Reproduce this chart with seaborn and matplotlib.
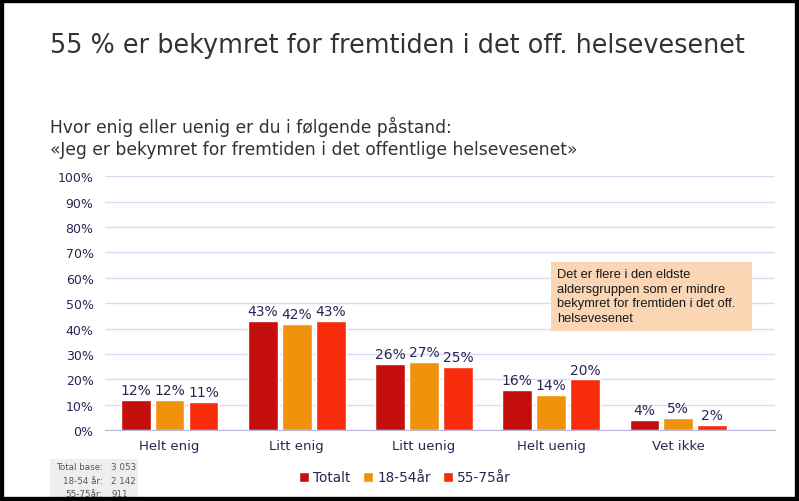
import pandas as pd
import matplotlib.pyplot as plt
import seaborn as sns
from matplotlib.patches import Rectangle

# --- data ---
categories = ["Helt enig", "Litt enig", "Litt uenig", "Helt uenig", "Vet ikke"]
groups = ["Totalt", "18-54år", "55-75år"]
totalt = [12, 43, 26, 16, 4]
aar_18_54 = [12, 42, 27, 14, 5]
aar_55_75 = [11, 43, 25, 20, 2]
y_ticks = [0, 10, 20, 30, 40, 50, 60, 70, 80, 90, 100]
base_labels = ["Total base:", "18-54 år:", "55-75år:"]
base_values = ["3 053", "2 142", "911"]

colors = ["#C40F0C", "#F0920C", "#F62C0A"]
navy = "#262654"

df = pd.DataFrame({
    "kategori": categories * 3,
    "gruppe": [g for g in groups for _ in categories],
    "andel": totalt + aar_18_54 + aar_55_75,
})

sns.set_style("white")
plt.rcParams["font.family"] = ["DejaVu Sans"]

fig = plt.figure(figsize=(7.99, 5.02), dpi=100)
ax = fig.add_axes([0.131, 0.141, 0.839, 0.506])

sns.barplot(data=df, x="kategori", y="andel", hue="gruppe", order=categories,
            hue_order=groups, palette=colors, width=0.8, gap=0.12,
            saturation=1, ax=ax, legend=True, zorder=3)

for cont in ax.containers:
    ax.bar_label(cont, labels=[f"{v:.0f}%" for v in cont.datavalues],
                 padding=2, fontsize=10, color=navy)

ax.set_ylim(0, 100)
ax.set_xlim(-0.51, 4.76)
ax.set_yticks(y_ticks)
ax.set_yticklabels([f"{t}%" for t in y_ticks], fontsize=9, color=navy)
ax.tick_params(axis="x", labelsize=9.5, labelcolor=navy, length=0, pad=6)
ax.tick_params(axis="y", length=0, pad=8)
ax.set_xlabel("")
ax.set_ylabel("")
ax.yaxis.grid(True, color="#DADAF0", linewidth=1, zorder=0)
for s in ["top", "right", "left"]:
    ax.spines[s].set_visible(False)
ax.spines["bottom"].set_color("#B8B8D8")

leg = ax.legend(loc="upper center", bbox_to_anchor=(0.448, -0.11), ncol=3,
                frameon=False, fontsize=9.8, handlelength=0.75, handleheight=0.75,
                handletextpad=0.3, columnspacing=0.9)
for t in leg.get_texts():
    t.set_color(navy)

# titles
fig.text(0.063, 0.908, "55 % er bekymret for fremtiden i det off. helsevesenet",
         fontsize=18.4, color="#333333", va="center")
fig.text(0.063, 0.748, "Hvor enig eller uenig er du i følgende påstand:",
         fontsize=12.3, color="#333333", va="center")
fig.text(0.063, 0.702, "«Jeg er bekymret for fremtiden i det offentlige helsevesenet»",
         fontsize=12.3, color="#333333", va="center")

# comment box
fig.patches.append(Rectangle((0.690, 0.339), 0.251, 0.137, transform=fig.transFigure,
                             facecolor="#FAD6B4", edgecolor="none", zorder=5))
fig.text(0.697, 0.464,
         "Det er flere i den eldste\naldersgruppen som er mindre\nbekymret for fremtiden i det off.\nhelsevesenet",
         fontsize=9.3, family=["Liberation Sans"], color="#1a1a1a", va="top",
         linespacing=1.3, zorder=6)

# base table
fig.patches.append(Rectangle((0.063, 0.008), 0.110, 0.075, transform=fig.transFigure,
                             facecolor="#EEEEEE", edgecolor="none"))
for i, (lab, val) in enumerate(zip(base_labels, base_values)):
    y = 0.068 - i * 0.027
    fig.text(0.129, y, lab, fontsize=6.3, color="#555555", ha="right", va="center")
    fig.text(0.139, y, val, fontsize=6.3, color="#555555", ha="left", va="center")

# black frame
fig.patches.append(Rectangle((0, 0), 1, 1, transform=fig.transFigure,
                             facecolor="none", edgecolor="black", linewidth=6,
                             zorder=10))

fig.savefig("out.png", dpi=100)
